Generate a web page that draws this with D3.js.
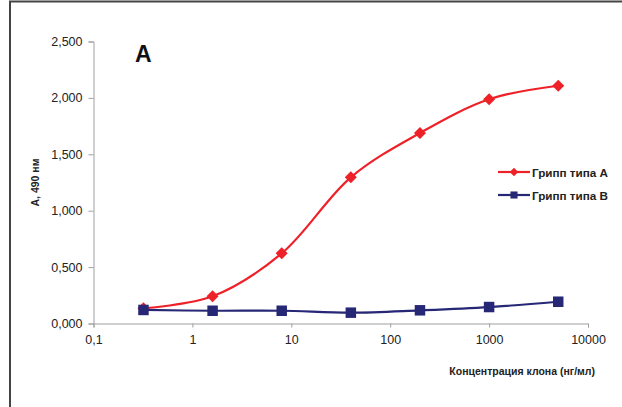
<!DOCTYPE html>
<html>
<head>
<meta charset="utf-8">
<script src="https://cdn.jsdelivr.net/npm/d3@7"></script>
<style>
  body { margin: 0; background: #fff; }
  svg { display: block; font-family: "Liberation Sans", Arial, sans-serif; }
</style>
</head>
<body>
<script>
// data
var concentrations = [0.32, 1.6, 8, 40, 200, 1000, 5000];
var fluA = [0.135, 0.241, 0.622, 1.296, 1.689, 1.988, 2.108];
var fluB = [0.120, 0.113, 0.113, 0.096, 0.117, 0.146, 0.193];
var seriesNames = ["Грипп типа А", "Грипп типа В"];
var xTicks = [0.1, 1, 10, 100, 1000, 10000];
var yTicks = [0, 0.5, 1, 1.5, 2, 2.5];

var width = 622, height = 407;
var margin = { top: 41.5, right: 34, bottom: 83.5, left: 93.5 };

var svg = d3.select("body").append("svg")
  .attr("width", width)
  .attr("height", height);

// outer frame
svg.append("rect")
  .attr("x", 10).attr("y", 1.5)
  .attr("width", width + 10).attr("height", height + 10)
  .attr("fill", "none")
  .attr("stroke", "#444")
  .attr("stroke-width", 2);

var x = d3.scaleLog()
  .domain([0.1, 10000])
  .range([margin.left, width - margin.right]);

var y = d3.scaleLinear()
  .domain([0, 2.5])
  .range([height - margin.bottom, margin.top]);

var fmtY = function(d) { return d3.format(",.3f")(d).replace(".", ","); };
var fmtX = function(d) { return d < 1 ? String(d).replace(".", ",") : String(d); };

var xAxis = svg.append("g")
  .attr("transform", `translate(0,${height - margin.bottom})`)
  .call(d3.axisBottom(x).tickValues(xTicks).tickFormat(fmtX).tickSize(4).tickPadding(8));

var yAxis = svg.append("g")
  .attr("transform", `translate(${margin.left},0)`)
  .call(d3.axisLeft(y).tickValues(yTicks).tickFormat(fmtY).tickSize(5).tickPadding(6));

[xAxis, yAxis].forEach(function(g) {
  g.select(".domain").attr("stroke", "#a0a0a0");
  g.selectAll(".tick line").attr("stroke", "#a0a0a0");
  g.selectAll("text")
    .style("font-family", "'Liberation Sans', Arial, sans-serif")
    .style("font-size", "12.5px")
    .style("fill", "#222");
});

// axis titles
svg.append("text")
  .attr("transform", `translate(39,${(margin.top + height - margin.bottom) / 2}) rotate(-90)`)
  .attr("text-anchor", "middle")
  .style("font-size", "10.5px")
  .style("font-weight", "bold")
  .attr("fill", "#222")
  .text("А, 490 нм");

svg.append("text")
  .attr("x", 595).attr("y", 375)
  .attr("text-anchor", "end")
  .style("font-size", "10.5px")
  .style("font-weight", "bold")
  .attr("fill", "#222")
  .text("Концентрация клона (нг/мл)");

// panel letter
svg.append("text")
  .attr("x", 135).attr("y", 62)
  .style("font-size", "23px")
  .style("font-weight", "bold")
  .attr("fill", "#111")
  .text("A");

var series = [
  { name: seriesNames[0], values: fluA, color: "#ee2129", rot: 45, size: 72, legSize: 36 },
  { name: seriesNames[1], values: fluB, color: "#262775", rot: 0, size: 110, legSize: 50 }
];

var line = d3.line()
  .x(function(d) { return x(d[0]); })
  .y(function(d) { return y(d[1]); })
  .curve(d3.curveCatmullRom.alpha(0.5));

series.forEach(function(s) {
  var pts = concentrations.map(function(c, i) { return [c, s.values[i]]; });
  svg.append("path")
    .datum(pts)
    .attr("d", line)
    .attr("fill", "none")
    .attr("stroke", s.color)
    .attr("stroke-width", 2.2);
  svg.selectAll(null)
    .data(pts)
    .enter()
    .append("path")
    .attr("d", d3.symbol().type(d3.symbolSquare).size(s.size))
    .attr("transform", function(d) { return `translate(${x(d[0])},${y(d[1])}) rotate(${s.rot})`; })
    .attr("fill", s.color);
});

// legend
var legend = svg.append("g").attr("transform", "translate(498,172)");
series.forEach(function(s, i) {
  var g = legend.append("g").attr("transform", `translate(0,${i * 23})`);
  g.append("line")
    .attr("x1", 0).attr("x2", 32)
    .attr("stroke", s.color)
    .attr("stroke-width", 2.2);
  g.append("path")
    .attr("d", d3.symbol().type(d3.symbolSquare).size(s.legSize))
    .attr("transform", `translate(16,0) rotate(${s.rot})`)
    .attr("fill", s.color);
  g.append("text")
    .attr("x", 34).attr("y", 4.5)
    .style("font-size", "11.7px")
    .style("font-weight", "bold")
    .attr("fill", "#222")
    .text(s.name);
});
</script>
</body>
</html>
